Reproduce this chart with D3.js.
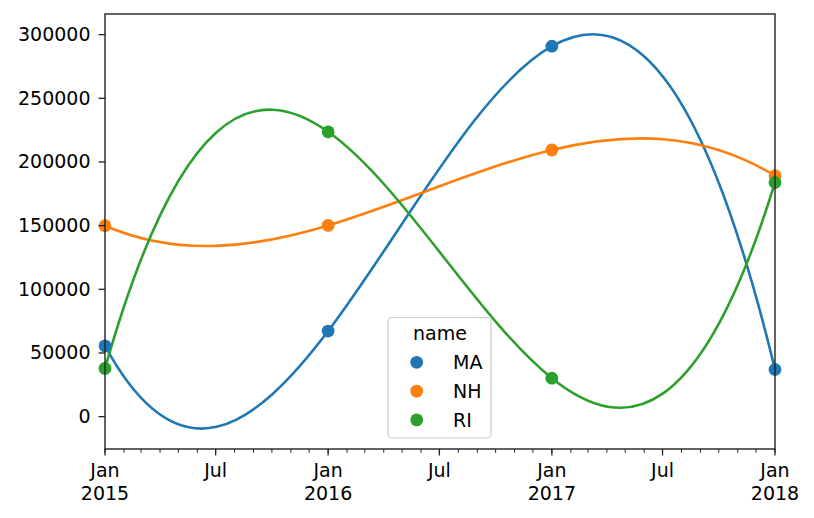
<!DOCTYPE html>
<html><head><meta charset="utf-8">
<script src="https://cdn.jsdelivr.net/npm/d3@7"></script>
<style>body{margin:0;background:#fff} svg{display:block} text{font-family:"DejaVu Sans";fill:#000}</style>
</head><body><svg id="c" width="814" height="518"></svg>
<script>
const dates = ["2015-01-01","2016-01-01","2017-01-01","2018-01-01"];
const seriesNames = ["MA","NH","RI"];
const maValues = [55200, 66800, 290500, 36700];
const nhValues = [149500, 149800, 209000, 188800];
const riValues = [37500, 223300, 29800, 183500];
const colors = ["#1f77b4","#ff7f0e","#2ca02c"];
const yTicks = [0, 50000, 100000, 150000, 200000, 250000, 300000];
const yDomain = [-25800, 315800];
const xDomain = ["2015-01-01","2018-01-01"];
const legendTitle = "name";

const series = [maValues, nhValues, riValues].map((vals,i)=>({
  name: seriesNames[i], color: colors[i],
  pts: vals.map((v,j)=>({date: new Date(dates[j]+"T00:00:00Z"), value: v}))
}));

const L=105, R=775, T=14, B=449;
const FS = 19;
const svg = d3.select("#c");
const x = d3.scaleUtc().domain(xDomain.map(d=>new Date(d+"T00:00:00Z"))).range([L,R]);
const y = d3.scaleLinear().domain(yDomain).range([B,T]);

// cubic interpolating polynomial rendered exactly with Bezier segments
function curvePoly(context){
  return {
    _pts: [],
    areaStart(){}, areaEnd(){},
    lineStart(){ this._pts=[]; },
    point(px,py){ this._pts.push([+px,+py]); },
    lineEnd(){
      const p=this._pts, n=p.length;
      if(!n) return;
      const xs=p.map(d=>d[0]), ys=p.map(d=>d[1]);
      const w = xs.map((xi,i)=>1/xs.reduce((a,xk,k)=>k===i?a:a*(xi-xk),1));
      const der = xs.map((xj,j)=>{
        let s=0;
        for(let i=0;i<n;i++){
          if(i===j){ let t=0; for(let k=0;k<n;k++) if(k!==j) t+=1/(xj-xs[k]); s+=ys[j]*t; }
          else s += ys[i]*(w[i]/w[j])/(xj-xs[i]);
        }
        return s;
      });
      context.moveTo(xs[0],ys[0]);
      for(let i=0;i<n-1;i++){
        const h=xs[i+1]-xs[i];
        context.bezierCurveTo(xs[i]+h/3, ys[i]+der[i]*h/3, xs[i+1]-h/3, ys[i+1]-der[i+1]*h/3, xs[i+1], ys[i+1]);
      }
    }
  };
}

const line = d3.line().x(d=>x(d.date)).y(d=>y(d.value)).curve(curvePoly);

svg.append("defs").append("clipPath").attr("id","clip").append("rect")
  .attr("x",L).attr("y",T).attr("width",R-L).attr("height",B-T);

const g = svg.append("g");
g.append("g").attr("clip-path","url(#clip)").selectAll("path").data(series).join("path")
  .attr("d",d=>line(d.pts)).attr("fill","none").attr("stroke",d=>d.color).attr("stroke-width",2.6);

series.forEach(s=>{
  g.append("g").selectAll("circle").data(s.pts).join("circle")
    .attr("cx",d=>x(d.date)).attr("cy",d=>y(d.value)).attr("r",6.4).attr("fill",s.color);
});

// axes
const yAxis = d3.axisLeft(y).tickValues(yTicks).tickFormat(d3.format("d")).tickSize(6.5).tickPadding(8);
const ya = svg.append("g").attr("transform",`translate(${L},0)`).call(yAxis);
ya.select(".domain").remove();
ya.selectAll("line").attr("stroke","#222").attr("stroke-width",1.3);
ya.selectAll("text").attr("font-size",FS).attr("font-family","DejaVu Sans").attr("fill","#000").attr("dy","0.34em");

const minor = d3.utcMonth.range(x.domain()[0], d3.utcMonth.offset(x.domain()[1],1));
const xa = svg.append("g");
xa.selectAll("line.minor").data(minor).join("line")
  .attr("x1",d=>x(d)).attr("x2",d=>x(d)).attr("y1",B).attr("y2",B+3.8)
  .attr("stroke","#222").attr("stroke-width",1);
const major = minor.filter(d=>d.getUTCMonth()===0||d.getUTCMonth()===6);
xa.selectAll("line.major").data(major).join("line")
  .attr("x1",d=>x(d)).attr("x2",d=>x(d)).attr("y1",B).attr("y2",B+6.5)
  .attr("stroke","#222").attr("stroke-width",1.3);
major.forEach(d=>{
  const t = xa.append("text").attr("x",x(d)).attr("y",477).attr("text-anchor","middle").attr("font-size",FS);
  if(d.getUTCMonth()===0){
    t.append("tspan").attr("x",x(d)).text(d3.utcFormat("%b")(d));
    t.append("tspan").attr("x",x(d)).attr("dy",22.5).text(d3.utcFormat("%Y")(d));
  } else t.text(d3.utcFormat("%b")(d));
});

// frame
svg.append("rect").attr("x",L).attr("y",T).attr("width",R-L).attr("height",B-T)
  .attr("fill","none").attr("stroke","#222").attr("stroke-width",1.4);

// legend
const lg = svg.append("g");
lg.append("rect").attr("x",388).attr("y",317.5).attr("width",103).attr("height",120.5).attr("rx",4)
  .attr("fill","#fff").attr("fill-opacity",0.8).attr("stroke","#cccccc").attr("stroke-width",1.2);
lg.append("text").attr("x",440).attr("y",340).attr("text-anchor","middle").attr("font-size",FS).text(legendTitle);
series.forEach((s,i)=>{
  const cy = 362.3 + i*28.8;
  lg.append("circle").attr("cx",416.7).attr("cy",cy).attr("r",6.4).attr("fill",s.color);
  lg.append("text").attr("x",453).attr("y",cy).attr("dy","0.36em").attr("font-size",FS).text(s.name);
});
</script></body></html>
